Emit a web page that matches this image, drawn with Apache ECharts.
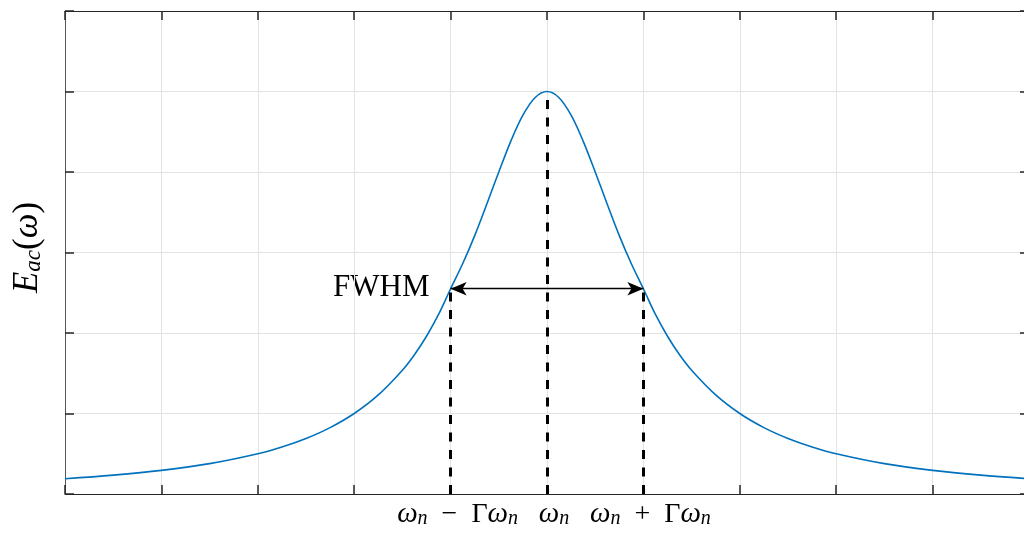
<!DOCTYPE html>
<html>
<head>
<meta charset="utf-8">
<script src="https://cdn.jsdelivr.net/npm/echarts@6/dist/echarts.min.js"></script>
<style>html,body{margin:0;padding:0;background:#fff}#c{width:1024px;height:533px}</style>
</head>
<body>
<div id="c"></div>
<script>
// frequency offset (in units of Γω_n from ω_n)
const xs = [-5, -4.5, -4, -3.5, -3, -2.75, -2.5, -2.25, -2, -1.75, -1.5, -1.375, -1.25, -1.125, -1, -0.875, -0.75, -0.625, -0.5, -0.375, -0.25, -0.125, 0,
            0.125, 0.25, 0.375, 0.5, 0.625, 0.75, 0.875, 1, 1.125, 1.25, 1.375, 1.5, 1.75, 2, 2.25, 2.5, 2.75, 3, 3.5, 4, 4.5, 5];
// E_ac values
const ys = [0.19, 0.235, 0.294, 0.377, 0.5, 0.584, 0.69, 0.825, 1.0, 1.231, 1.538, 1.73, 1.96, 2.23, 2.55, 2.86, 3.21, 3.6, 4.0, 4.384, 4.706, 4.923, 5.0,
            4.923, 4.706, 4.384, 4.0, 3.6, 3.21, 2.86, 2.55, 2.23, 1.96, 1.73, 1.538, 1.231, 1.0, 0.825, 0.69, 0.584, 0.5, 0.377, 0.294, 0.235, 0.19];
const peakX = 0, peakY = 5.0;
const halfY = 2.55, halfLeft = -1, halfRight = 1;
const tickLabels = {'-1': '{i|ω}{s|n}{r|  −  Γ}{i|ω}{s|n}', '0': '{i|ω}{s|n}', '1': '{i|ω}{s|n}{r|  +  Γ}{i|ω}{s|n}'};

const serif = '"Liberation Serif", "DejaVu Serif", serif';
const axisCol = '#262626';
const chart = echarts.init(document.getElementById('c'));
const data = xs.map((x, i) => [x, ys[i]]);
const rich = {
  i: {fontFamily: serif, fontStyle: 'italic', fontSize: 29, color: '#000', verticalAlign: 'bottom', lineHeight: 30},
  s: {fontFamily: serif, fontStyle: 'italic', fontSize: 20, color: '#000', verticalAlign: 'bottom', lineHeight: 20},
  r: {fontFamily: serif, fontSize: 28, color: '#000', verticalAlign: 'bottom', lineHeight: 30}
};
const tickStyle = {show: true, inside: true, length: 9, lineStyle: {color: axisCol, width: 1.5}};
chart.setOption({
  animation: false,
  grid: {left: 65, right: -5, top: 11, bottom: 39, outerBoundsMode: 'none', containLabel: false},
  xAxis: [{
    type: 'value', min: -5, max: 5, interval: 1,
    axisLine: {onZero: false, lineStyle: {color: axisCol, width: 1}},
    axisTick: tickStyle,
    splitLine: {show: true, lineStyle: {color: '#e3e3e3', width: 1}},
    axisLabel: {margin: 5, padding: [0, 0, 0, 14], formatter: v => tickLabels[String(v)] || '', rich: rich}
  }, {
    type: 'value', min: -5, max: 5, interval: 1, position: 'top',
    axisLine: {show: true, onZero: false, lineStyle: {color: axisCol, width: 1}},
    axisTick: tickStyle,
    splitLine: {show: false}, axisLabel: {show: false}
  }],
  yAxis: [{
    type: 'value', min: 0, max: 6, interval: 1,
    axisLine: {show: true, onZero: false, lineStyle: {color: '#555', width: 1}},
    axisTick: tickStyle,
    splitLine: {show: true, lineStyle: {color: '#e3e3e3', width: 1}},
    axisLabel: {show: false},
    name: '{e|E}{s|ac}{r|(}{e|ω}{r|)}', nameLocation: 'middle', nameGap: 20, nameRotate: 90,
    nameTextStyle: {padding: [0, 0, 0, 10], rich: {
      e: {fontFamily: serif, fontStyle: 'italic', fontSize: 35, color: '#000', verticalAlign: 'bottom', lineHeight: 38},
      s: {fontFamily: serif, fontStyle: 'italic', fontSize: 23, color: '#000', verticalAlign: 'bottom', lineHeight: 28},
      r: {fontFamily: serif, fontSize: 35, color: '#000', verticalAlign: 'bottom', lineHeight: 38}
    }}
  }, {
    type: 'value', min: 0, max: 6, interval: 1, position: 'right',
    axisLine: {show: true, onZero: false, lineStyle: {color: axisCol, width: 1}},
    axisTick: tickStyle,
    splitLine: {show: false}, axisLabel: {show: false}
  }],
  series: [{
    type: 'line', data: data, smooth: 0.35, showSymbol: false,
    lineStyle: {color: '#0072BD', width: 1.6}, z: 3,
    markLine: {
      silent: true, symbol: ['none', 'none'], label: {show: false},
      lineStyle: {color: '#000', type: [9, 8.5], width: 3},
      data: [
        [{coord: [halfLeft, 0]}, {coord: [halfLeft, halfY]}],
        [{coord: [peakX, 0]}, {coord: [peakX, peakY]}],
        [{coord: [halfRight, 0]}, {coord: [halfRight, halfY]}]
      ]
    }
  }, {
    type: 'line', data: [], z: 4,
    markLine: {
      silent: true, symbol: ['arrow', 'arrow'], symbolSize: [10, 16], label: {show: false},
      lineStyle: {color: '#000', type: 'solid', width: 1.3},
      data: [[{coord: [halfLeft, halfY]}, {coord: [halfRight, halfY]}]]
    }
  }],
  graphic: [{
    type: 'text', left: 333, top: 272,
    style: {text: 'FWHM', font: '31px ' + serif, fill: '#000'}
  }]
});
</script>
</body>
</html>
